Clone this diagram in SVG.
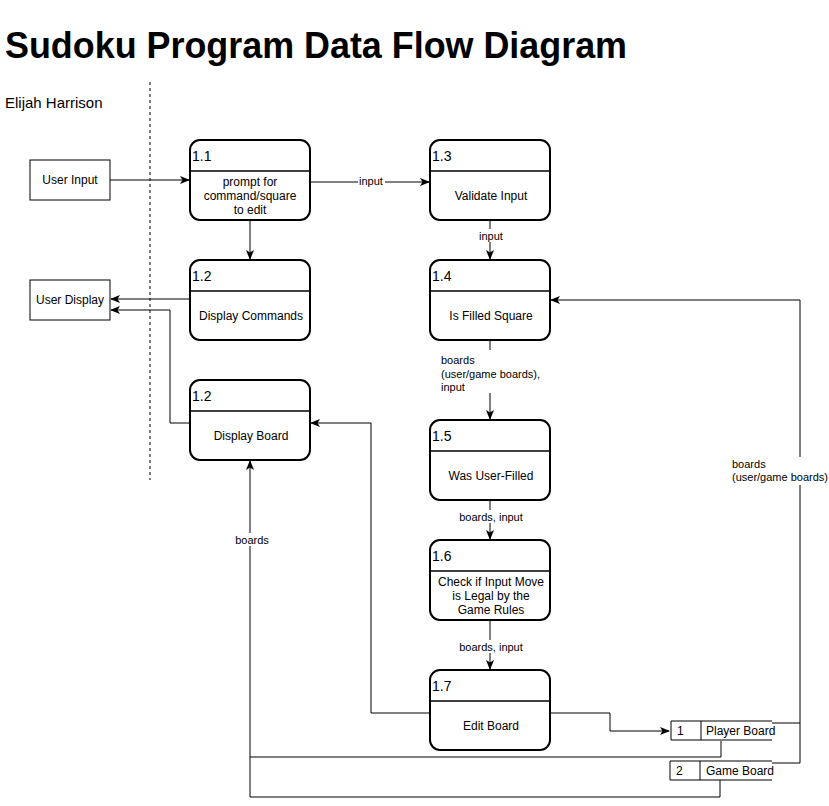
<svg xmlns="http://www.w3.org/2000/svg" width="829" height="806" viewBox="0 0 829 806">
<style>
text{font-family:"Liberation Sans",Arial,Helvetica,sans-serif;fill:#000}
.proc{fill:#fff;stroke:#000;stroke-width:2}
.div{stroke:#000;stroke-width:1.5}
.ext{fill:#fff;stroke:#000;stroke-width:1}
.num{font-size:14px}
.t{font-size:12px;text-anchor:middle}
.lbl{font-size:11px}
.lblc{font-size:11px;text-anchor:middle}
.c{fill:none;stroke:#000;stroke-width:1}
.ds{fill:none;stroke:#000;stroke-width:1}
.bg{fill:#fff}
</style>
<defs>
<marker id="a" viewBox="0 0 10 8" refX="9" refY="4" markerWidth="10" markerHeight="8" markerUnits="userSpaceOnUse" orient="auto">
<path d="M0,0 L10,4 L0,8 L2.5,4 z" fill="#000"/>
</marker>
</defs>
<rect width="829" height="806" fill="#fff"/>
<text x="5" y="58" style="font-size:36px;font-weight:bold" textLength="622" lengthAdjust="spacingAndGlyphs">Sudoku Program Data Flow Diagram</text>
<text x="5" y="108" style="font-size:15px">Elijah Harrison</text>
<line x1="150" y1="82" x2="150" y2="480" stroke="#000" stroke-width="1" stroke-dasharray="3,3"/>

<g id="connectors">
<line class="c" x1="110" y1="180" x2="189" y2="180" marker-end="url(#a)"/>
<path class="c" d="M310,182 L429,182" marker-end="url(#a)"/>
<rect class="bg" x="358" y="175" width="27" height="13"/>
<text class="lblc" x="371" y="185">input</text>
<line class="c" x1="250" y1="220" x2="250" y2="259" marker-end="url(#a)"/>
<line class="c" x1="190" y1="299" x2="111" y2="299" marker-end="url(#a)"/>
<path class="c" d="M190,423 L170,423 L170,310 L111,310" marker-end="url(#a)"/>
<line class="c" x1="490" y1="220" x2="490" y2="259" marker-end="url(#a)"/>
<rect class="bg" x="477" y="229" width="27" height="13"/>
<text class="lblc" x="491" y="240">input</text>
<line class="c" x1="490" y1="340" x2="490" y2="350"/>
<line class="c" x1="490" y1="393" x2="490" y2="419" marker-end="url(#a)"/>
<text class="lbl" x="441" y="364">boards</text>
<text class="lbl" x="441" y="378">(user/game boards),</text>
<text class="lbl" x="441" y="391">input</text>
<line class="c" x1="490" y1="500" x2="490" y2="539" marker-end="url(#a)"/>
<rect class="bg" x="458" y="510" width="66" height="13"/>
<text class="lblc" x="491" y="521">boards, input</text>
<line class="c" x1="490" y1="620" x2="490" y2="669" marker-end="url(#a)"/>
<rect class="bg" x="458" y="640" width="66" height="13"/>
<text class="lblc" x="491" y="651">boards, input</text>
<path class="c" d="M430,713 L371,713 L371,423 L311,423" marker-end="url(#a)"/>
<path class="c" d="M550,713 L610,713 L610,731 L669,731" marker-end="url(#a)"/>
<path class="c" d="M762,723 L800,723 L800,300 L551,300" marker-end="url(#a)"/>
<path class="c" d="M760,763 L800,763 L800,723"/>
<rect class="bg" x="730" y="457" width="96" height="28"/>
<text class="lbl" x="732" y="468">boards</text>
<text class="lbl" x="732" y="481">(user/game boards)</text>
<path class="c" d="M721,741 L721,757 L250,757 L250,461" marker-end="url(#a)"/>
<path class="c" d="M720,780 L720,797 L250,797 L250,757"/>
<rect class="bg" x="235" y="533" width="34" height="13"/>
<text class="lblc" x="252" y="544">boards</text>
</g>

<g id="user-input">
<rect class="ext" x="30" y="160" width="80" height="40"/>
<text class="t" x="70" y="184">User Input</text>
</g>
<g id="user-display">
<rect class="ext" x="30" y="280" width="80" height="40"/>
<text class="t" x="70" y="304">User Display</text>
</g>

<g id="p1-1">
<rect class="proc" x="190" y="140" width="120" height="80" rx="10"/>
<line class="div" x1="190" y1="171" x2="310" y2="171"/>
<text class="num" x="192" y="161">1.1</text>
<text class="t" x="250" y="186">prompt for</text>
<text class="t" x="250" y="200">command/square</text>
<text class="t" x="250" y="214">to edit</text>
</g>
<g id="p1-2a">
<rect class="proc" x="190" y="260" width="120" height="80" rx="10"/>
<line class="div" x1="190" y1="291" x2="310" y2="291"/>
<text class="num" x="192" y="281">1.2</text>
<text class="t" x="251" y="320">Display Commands</text>
</g>
<g id="p1-2b">
<rect class="proc" x="190" y="380" width="120" height="80" rx="10"/>
<line class="div" x1="190" y1="411" x2="310" y2="411"/>
<text class="num" x="192" y="401">1.2</text>
<text class="t" x="251" y="440">Display Board</text>
</g>
<g id="p1-3">
<rect class="proc" x="430" y="140" width="120" height="80" rx="10"/>
<line class="div" x1="430" y1="171" x2="550" y2="171"/>
<text class="num" x="432" y="161">1.3</text>
<text class="t" x="491" y="200">Validate Input</text>
</g>
<g id="p1-4">
<rect class="proc" x="430" y="260" width="120" height="80" rx="10"/>
<line class="div" x1="430" y1="291" x2="550" y2="291"/>
<text class="num" x="432" y="281">1.4</text>
<text class="t" x="491" y="320">Is Filled Square</text>
</g>
<g id="p1-5">
<rect class="proc" x="430" y="420" width="120" height="80" rx="10"/>
<line class="div" x1="430" y1="451" x2="550" y2="451"/>
<text class="num" x="432" y="441">1.5</text>
<text class="t" x="491" y="480">Was User-Filled</text>
</g>
<g id="p1-6">
<rect class="proc" x="430" y="540" width="120" height="80" rx="10"/>
<line class="div" x1="430" y1="571" x2="550" y2="571"/>
<text class="num" x="432" y="561">1.6</text>
<text class="t" x="491" y="586">Check if Input Move</text>
<text class="t" x="491" y="600">is Legal by the</text>
<text class="t" x="491" y="614">Game Rules</text>
</g>
<g id="p1-7">
<rect class="proc" x="430" y="670" width="120" height="80" rx="10"/>
<line class="div" x1="430" y1="701" x2="550" y2="701"/>
<text class="num" x="432" y="691">1.7</text>
<text class="t" x="491" y="730">Edit Board</text>
</g>

<g id="ds1">
<rect class="bg" x="671" y="721" width="101" height="19"/>
<path class="ds" d="M772,721 L671,721 L671,740 L772,740 M701,721 L701,740"/>
<text style="font-size:12px" x="677" y="735">1</text>
<text style="font-size:12px" x="706" y="735">Player Board</text>
</g>
<g id="ds2">
<rect class="bg" x="670" y="761" width="102" height="19"/>
<path class="ds" d="M772,761 L670,761 L670,780 L772,780 M700,761 L700,780"/>
<text style="font-size:12px" x="676" y="775">2</text>
<text style="font-size:12px" x="706" y="775">Game Board</text>
</g>
</svg>
